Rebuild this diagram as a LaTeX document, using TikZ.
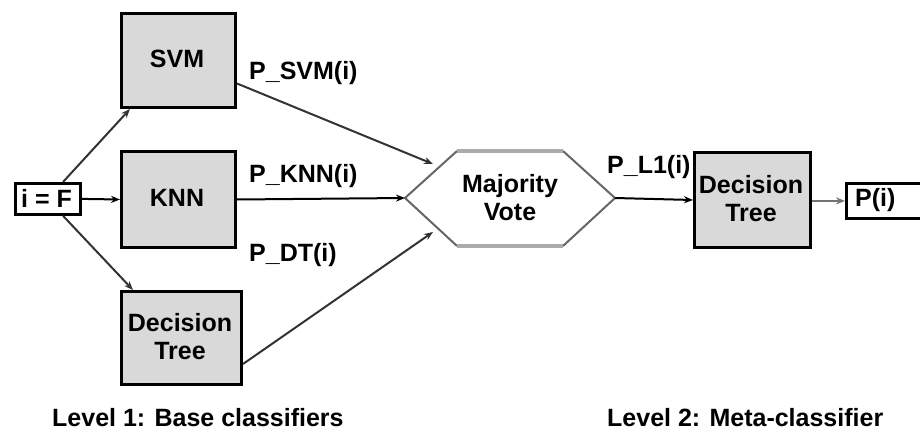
\documentclass[tikz,border=0pt]{standalone}
\usepackage{fontspec}
\setmainfont{Liberation Sans}
\usetikzlibrary{arrows.meta}
\begin{document}
\begin{tikzpicture}[x=1pt,y=-1pt,
  font=\fontsize{25}{29}\selectfont\bfseries,
  classifier/.style={draw=black,line width=3pt,fill=black!15,inner sep=0pt,anchor=north west},
  iobox/.style={draw=black,line width=2.8pt,inner sep=0pt,anchor=north west},
  link/.style={line width=2pt,draw=black!80,-{Stealth[length=9pt,width=7pt]}},
  lbl/.style={anchor=west,inner sep=0pt},
  hexside/.style={line width=2pt,draw=black!60},
  hexflat/.style={line width=3.4pt,draw=black!33}]
\useasboundingbox (0,0) rectangle (920,433);

% input and base classifiers
\node[iobox,minimum width=65pt,minimum height=31pt] (in) at (14,182) {};
\node (tin) at (46.5,198) {i = F};
\node[classifier,minimum width=114pt,minimum height=94pt] (svm) at (120,12) {};
\node (tsvm) at (177,59) {SVM};
\node[classifier,minimum width=114pt,minimum height=96pt] (knn) at (120,150) {};
\node (tknn) at (177,198) {KNN};
\node[classifier,minimum width=120pt,minimum height=93pt] (dt) at (120,290) {};
\node[align=center] (tdt) at (180,336.5) {Decision\\[-1pt]Tree};

% majority vote hexagon
\coordinate (hl) at (405,198);
\coordinate (htl) at (457,151);
\coordinate (htr) at (563,151);
\coordinate (hr) at (615,198);
\coordinate (hbr) at (563,246);
\coordinate (hbl) at (457,246);
\draw[hexside] (htl) -- (hl) -- (hbl);
\draw[hexside] (htr) -- (hr) -- (hbr);
\draw[hexflat] (htl) -- (htr);
\draw[hexflat] (hbl) -- (hbr);
\node[align=center] (mv) at (510,198) {Majority\\[-1pt]Vote};
\coordinate (mvin1) at (433,164);
\coordinate (mvin3) at (433,232);

% meta-classifier and output
\node[classifier,minimum width=116pt,minimum height=95pt] (dt2) at (693,151) {};
\node[align=center] (tdt2) at (751,198.5) {Decision\\[-1pt]Tree};
\node[iobox,minimum width=90pt,minimum height=35pt] (out) at (845,182) {};
\node[lbl] (tout) at (855,200) {P(i)};

% connectors
\draw[link] ([xshift=49pt]in.north west) -- ([xshift=10pt]svm.south west);
\draw[link,draw=black] (in.east) -- (knn.west);
\draw[link] ([xshift=49pt]in.south west) -- ([xshift=13pt]dt.north west);
\draw[link] ([yshift=-23pt]svm.east) -- (mvin1);
\draw[link,draw=black] (knn.east) -- (hl);
\draw[link] ([yshift=-26pt]dt.east) -- (mvin3);
\draw[link,draw=black] (hr) -- (dt2.west);
\draw[link,draw=black!55] (dt2.east |- out.west) -- (out.west);

% edge labels
\node[lbl] (lsvm) at (249,73) {P\_SVM(i)};
\node[lbl] (lknn) at (249,176) {P\_KNN(i)};
\node[lbl] (ldt) at (249,255) {P\_DT(i)};
\node[lbl] (ll1) at (607,167) {P\_L1(i)};

% level captions
\node[lbl] (lev1) at (52,418) {Level 1: Base classifiers};
\node[lbl] (lev2) at (607,418) {Level 2: Meta-classifier};
\end{tikzpicture}
\end{document}
